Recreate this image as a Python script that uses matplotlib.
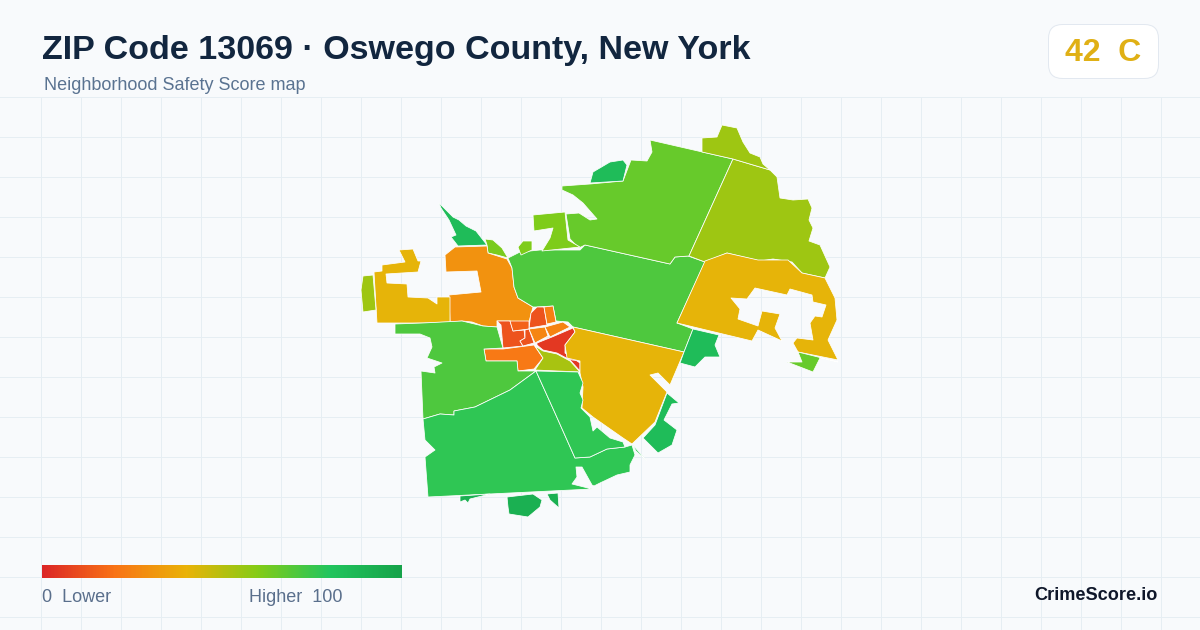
import matplotlib
matplotlib.use("Agg")
import matplotlib.pyplot as plt
import numpy as np
from matplotlib.colors import LinearSegmentedColormap
from matplotlib.patches import FancyBboxPatch, Polygon

plt.rcParams['font.family'] = ['Liberation Sans', 'DejaVu Sans']

TITLE = "ZIP Code 13069 · Oswego County, New York"
SUBTITLE = "Neighborhood Safety Score map"
GRADE = "42  C"
BRAND = "CrimeScore.io"
LEGEND_LOW = "0  Lower"
LEGEND_HIGH = "Higher  100"

stop_pos = [0, .2, .4, .6, .8, 1]
stop_col = ['#dc2626', '#f97316', '#eab308', '#84cc16', '#22c55e', '#16a34a']

# traced block-group outlines, in picture coordinates, with their scores
nw_sliver = [(439,203),(445,209),(453,217),(459,220),(466,226),(476,231),(487,245),(458,246),(451,237),(456,235),(449,220),(441,208)]
nw_small = [(485,239),(493,240),(502,248),(508,258),(497,255),(488,253),(487,245)]
west_orange = [(445,255),(455,247),(487,246),(488,253),(507,259),(512,268),(514,287),(518,298),(533,307),(530,318),(528,328),(510,321),(497,321),(497,327),(483,326),(472,322),(462,321),(450,322),(449,295),(481,292),(477,271),(446,272)]
west_yellow = [(399,250),(413,249),(418,261),(421,261),(418,272),(386,274),(387,283),(407,284),(408,297),(428,298),(437,304),(437,297),(450,297),(450,322),(423,323),(377,323),(374,272),(382,271),(382,265),(405,262)]
west_olive = [(363,276),(373,275),(376,310),(363,312),(361,290)]
mid_green = [(508,258),(520,252),(540,250),(580,250),(585,245),(670,264),(675,257),(688,256),(705,262),(677,323),(693,329),(684,352),(573,327),(568,322),(556,321),(553,306),(537,307),(533,307),(518,298),(514,287),(512,268)]
city_n1 = [(537,307),(544,307),(547,325),(529,328),(531,313)]
city_n2 = [(544,307),(553,306),(556,322),(547,324)]
city_w1 = [(497,321),(510,321),(513,331),(524,330),(525,338),(520,341),(523,346),(503,348),(501,325)]
city_w2 = [(510,321),(529,321),(529,329),(513,331)]
city_w3 = [(525,330),(529,329),(534,343),(523,346),(520,341),(525,338)]
city_c = [(529,329),(545,327),(548,336),(535,343)]
city_ne = [(545,327),(563,322),(570,327),(550,337)]
city_red = [(537,343),(552,337),(573,328),(575,332),(565,345),(565,353),(580,363),(580,371),(570,360),(557,353),(543,350),(537,345)]
city_red2 = [(567,358),(580,356),(580,361),(572,360)]
city_s = [(484,349),(503,349),(534,345),(543,358),(534,369),(518,371),(517,361),(486,361)]
city_lime = [(535,346),(543,351),(557,354),(570,361),(580,372),(535,370),(543,358)]
se_yellow = [(573,327),(684,352),(670,385),(658,373),(650,375),(667,392),(655,422),(632,444),(623,438),(593,417),(582,408),(583,387),(580,373),(580,361),(567,358),(565,345),(575,332)]
sw_green = [(395,324),(423,323),(462,321),(483,326),(497,327),(503,348),(484,349),(486,361),(517,361),(518,371),(536,371),(510,390),(475,407),(454,411),(454,415),(440,414),(423,419),(421,371),(435,373),(434,367),(442,363),(427,358),(432,347),(430,338),(420,334),(395,334)]
south_west = [(536,371),(555,413),(575,458),(590,457),(607,449),(625,447),(632,445),(635,455),(630,465),(630,472),(617,475),(600,483),(594,486),(592,485),(582,467),(576,467),(577,477),(572,484),(592,489),(428,497),(425,457),(435,450),(432,447),(425,440),(423,419),(440,414),(454,415),(454,411),(475,407),(510,390)]
south_mid = [(536,371),(578,372),(583,383),(580,393),(583,400),(581,408),(590,417),(593,431),(597,427),(610,438),(623,442),(625,447),(607,449),(590,457),(575,458),(555,413)]
south_tail = [(632,444),(647,461),(636,451)]
east_lobe = [(667,393),(679,403),(672,404),(664,420),(677,430),(672,445),(658,453),(643,438),(655,425)]
bottom_a = [(460,496),(490,494),(470,499),(468,503),(465,500),(460,502)]
bottom_b = [(507,497),(533,494),(542,500),(540,507),(528,517),(509,514),(508,507)]
bottom_c = [(547,494),(558,493),(559,508),(550,500)]
north_big = [(650,140),(733,159),(689,256),(675,257),(670,264),(585,245),(579,248),(570,239),(566,214),(579,213),(590,220),(597,219),(583,203),(573,195),(562,190),(562,186),(590,184),(623,181),(631,160),(647,161),(652,152)]
north_teal = [(590,183),(593,172),(610,162),(623,160),(627,165),(623,181)]
ne_olive = [(733,159),(770,170),(777,177),(780,198),(793,200),(808,199),(812,208),(809,220),(813,228),(809,241),(820,245),(830,267),(825,278),(802,273),(792,262),(773,259),(760,261),(727,253),(705,262),(689,256)]
top_olive = [(702,138),(717,137),(722,125),(737,128),(743,142),(750,153),(760,157),(763,164),(770,170),(733,159),(702,152)]
north_lime = [(533,215),(565,212),(568,240),(580,247),(542,251),(550,238),(553,228),(534,231)]
small_lime = [(518,247),(523,241),(532,241),(532,250),(521,255)]
east_yellow = [(705,261),(727,253),(758,260),(788,260),(802,273),(825,278),(835,298),(837,320),(828,340),(838,360),(798,352),(793,343),(797,338),(813,340),(810,323),(815,316),(822,317),(826,305),(813,302),(812,295),(790,289),(787,295),(755,288),(747,299),(731,298),(740,309),(738,319),(758,326),(762,311),(780,314),(775,328),(782,341),(758,330),(752,341),(677,323)]
far_east_green = [(798,352),(838,362),(820,358),(813,372),(787,362),(802,362)]
east_teal = [(693,329),(719,335),(715,345),(720,357),(705,357),(695,367),(680,363),(684,352)]

regions = [nw_sliver, nw_small, west_orange, west_yellow, west_olive, mid_green,
           city_n1, city_n2, city_w1, city_w2, city_w3, city_c, city_ne, city_red, city_red2,
           city_s, city_lime, se_yellow, sw_green, south_west, south_mid, south_tail,
           east_lobe, bottom_a, bottom_b, bottom_c, north_big, north_teal, ne_olive,
           top_olive, north_lime, small_lime, east_yellow, far_east_green, east_teal]
scores = [85, 62, 30, 41, 55, 71,
          12, 24, 12, 16, 12, 26, 25, 5, 5,
          22, 53, 41, 71, 77, 77, 77,
          85, 92, 92, 92, 66, 85, 55,
          55, 61, 61, 41, 66, 85]

cmap = LinearSegmentedColormap.from_list('score', list(zip(stop_pos, stop_col)))

fig = plt.figure(figsize=(12, 6.3), dpi=100, facecolor='#f8fafc')
ax = fig.add_axes([0, 0, 1, 1])
ax.set_xlim(0, 1200)
ax.set_ylim(630, 0)
ax.axis('off')

for x in range(40, 1200, 40):
    ax.plot([x + .5, x + .5], [97, 630], color='#e6eef3', lw=0.72, zorder=1)
for y in range(97, 630, 40):
    ax.plot([0, 1200], [y, y], color='#e6eef3', lw=0.72, zorder=1)

for outline, score in zip(regions, scores):
    ax.add_patch(Polygon(outline, closed=True, facecolor=cmap(score / 100),
                         edgecolor='white', lw=0.55, joinstyle='round', zorder=2))

ax.text(42, 50, TITLE, fontsize=24.45, fontweight='bold', color='#12263f', va='center', ha='left', zorder=5)
ax.text(44, 86, SUBTITLE, fontsize=12.95, color='#5a7391', va='center', ha='left', zorder=5)

ax.add_patch(FancyBboxPatch((1048.5 + 14, 24.5 + 14), 110 - 28, 54 - 28,
                            boxstyle='round,pad=14,rounding_size=14',
                            facecolor='white', edgecolor='#e2e8f0', lw=0.72, zorder=4))
ax.text(1103, 53, GRADE, fontsize=23, fontweight='bold', color='#e0b015', va='center', ha='center', zorder=5)

gradient = np.linspace(0, 1, 360).reshape(1, -1)
ax.imshow(gradient, cmap=cmap, extent=(42, 402, 578, 565), aspect='auto', zorder=4)
ax.set_xlim(0, 1200)
ax.set_ylim(630, 0)
ax.text(42, 598, LEGEND_LOW, fontsize=12.95, color='#5a6f8c', va='center', ha='left', zorder=5)
ax.text(249, 598, LEGEND_HIGH, fontsize=12.95, color='#5a6f8c', va='center', ha='left', zorder=5)
ax.text(1158, 595, BRAND, fontsize=13.1, fontweight='bold', color='#0f172a', va='center', ha='right', zorder=5)

fig.savefig('out.png', dpi=100, facecolor=fig.get_facecolor())
